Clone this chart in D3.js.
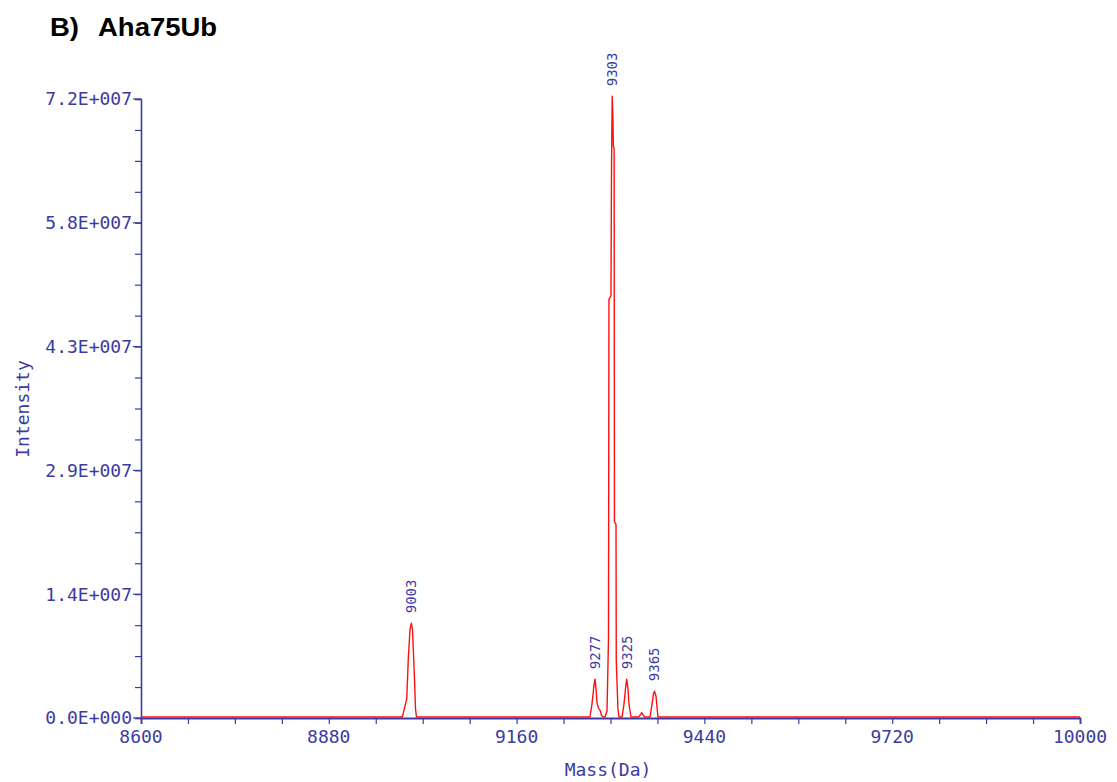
<!DOCTYPE html>
<html>
<head>
<meta charset="utf-8">
<script src="https://cdn.jsdelivr.net/npm/d3@7"></script>
<style>
  body { margin: 0; background: #fff; }
  svg { display: block; }
</style>
</head>
<body>
<div id="app"></div>
<script>
const mass = [
  8600, 8989.6, 8996.2, 8998.5, 9001.1, 9003.0, 9004.8, 9006.3, 9007.8, 9009.3, 9010.8,
  9269.4, 9272.4, 9275.4, 9276.9, 9278.4, 9279.9, 9282.1, 9284.3, 9286.6, 9288.8,
  9291.8, 9294.8, 9297.0, 9297.7, 9300.7, 9301.5, 9302.5, 9303.5, 9304.3, 9305.4, 9305.9,
  9308.2, 9308.6, 9311.1, 9312.6,
  9317.2, 9320.1, 9322.4, 9324.1, 9326.1, 9327.6, 9329.1, 9330.6,
  9342.0, 9345.0, 9346.5, 9348.0, 9351.0,
  9358.9, 9361.9, 9364.1, 9365.6, 9367.9, 9369.3, 9370.8,
  10000
]
// intensity in units of 1e6
const intensity = [
  0, 0, 2.1, 6.7, 10.2, 10.9, 10.2, 7.3, 4.4, 0.9, 0,
  0, 1.5, 3.7, 4.4, 3.3, 1.7, 1.0, 0.8, 0.2, 0,
  0, 0.7, 9.1, 48.6, 49.0, 63.7, 72.2, 70.0, 66.4, 66.1, 22.7,
  22.4, 6.5, 0.9, 0,
  0, 1.5, 3.3, 4.4, 3.3, 1.5, 0.7, 0,
  0, 0.3, 0.5, 0.3, 0,
  0, 1.5, 2.7, 3.0, 2.4, 1.2, 0,
  0
]

const peakMass = [9003, 9277, 9303, 9325, 9365]
const peakHeight = [10.9, 4.4, 72.2, 4.4, 3.0]
const peakLabels = ['9003', '9277', '9303', '9325', '9365']

const xTicks = [8600, 8880, 9160, 9440, 9720, 10000]
const xTickLabels = ['8600', '8880', '9160', '9440', '9720', '10000']
const yTicks = [0, 14.4, 28.8, 43.2, 57.6, 72]
const yTickLabels = ['0.0E+000', '1.4E+007', '2.9E+007', '4.3E+007', '5.8E+007', '7.2E+007']

const blue = '#3b3ba2'
const mono = '"DejaVu Sans Mono", monospace'

const svg = d3.select('#app')
  .append('svg')
  .attr('width', 1117)
  .attr('height', 782)

const x = d3.scaleLinear().domain([8600, 10000]).range([141, 1080])
const y = d3.scaleLinear().domain([0, 72]).range([718, 99])

// title
const title = svg.append('g')
  .attr('font-family', '"Liberation Sans", Arial, sans-serif')
  .attr('font-weight', 'bold')
  .attr('font-size', 25)
  .attr('fill', '#000')
title.append('text').attr('x', 50).attr('y', 36).text('B)')
  .attr('transform', 'translate(50,0) scale(1.1,1) translate(-50,0)')
title.append('text').attr('x', 98).attr('y', 36).text('Aha75Ub')
  .attr('transform', 'translate(98,0) scale(1.1,1) translate(-98,0)')

// x axis
const xAxis = d3.axisBottom(x)
  .tickValues(d3.range(8600, 10001, 70))
  .tickSize(6)
  .tickFormat('')
svg.append('g')
  .attr('transform', 'translate(0,718)')
  .call(xAxis)
  .call((g) => {
    g.select('.domain').attr('stroke', blue).attr('stroke-width', 1.8)
    g.selectAll('.tick line').attr('stroke', blue).attr('stroke-width', 1.2)
  })

svg.append('g')
  .selectAll('text')
  .data(xTicks)
  .join('text')
  .attr('x', (d) => x(d))
  .attr('y', 743)
  .attr('text-anchor', 'middle')
  .attr('font-family', mono)
  .attr('font-size', 18)
  .attr('fill', blue)
  .text((d, i) => xTickLabels[i])

// y axis
const yMinor = d3.range(0, 72.001, 3.6)
const yAxis = d3.axisLeft(y)
  .tickValues(yMinor)
  .tickSizeOuter(0)
  .tickSize(6)
  .tickFormat('')
svg.append('g')
  .attr('transform', 'translate(141,0)')
  .call(yAxis)
  .call((g) => {
    g.select('.domain').attr('stroke', blue).attr('stroke-width', 1.6)
    g.selectAll('.tick line').attr('stroke', blue).attr('stroke-width', 1.2)
  })

svg.append('g')
  .selectAll('line')
  .data(yTicks)
  .join('line')
  .attr('x1', 133)
  .attr('x2', 141)
  .attr('y1', (d) => y(d))
  .attr('y2', (d) => y(d))
  .attr('stroke', blue)
  .attr('stroke-width', 1.2)

svg.append('g')
  .selectAll('text')
  .data(yTicks)
  .join('text')
  .attr('x', 132)
  .attr('y', (d) => y(d))
  .attr('dy', '0.36em')
  .attr('text-anchor', 'end')
  .attr('font-family', mono)
  .attr('font-size', 18)
  .attr('fill', blue)
  .text((d, i) => yTickLabels[i])

// axis titles
svg.append('text')
  .attr('transform', 'translate(29,409) rotate(-90)')
  .attr('text-anchor', 'middle')
  .attr('font-family', mono)
  .attr('font-size', 18)
  .attr('fill', blue)
  .text('Intensity')

svg.append('text')
  .attr('x', 608)
  .attr('y', 776)
  .attr('text-anchor', 'middle')
  .attr('font-family', mono)
  .attr('font-size', 18)
  .attr('fill', blue)
  .text('Mass(Da)')

// spectrum
const line = d3.line()
  .x((d, i) => x(mass[i]))
  .y((d) => y(d) - 1)

svg.append('path')
  .datum(intensity)
  .attr('d', line)
  .attr('fill', 'none')
  .attr('stroke', '#ff1010')
  .attr('stroke-width', 1.4)
  .attr('stroke-linejoin', 'round')

// peak labels
svg.append('g')
  .selectAll('text')
  .data(peakMass)
  .join('text')
  .attr('transform', (d, i) => `translate(${x(d)},${y(peakHeight[i]) - 11}) rotate(-90)`)
  .attr('dy', '0.35em')
  .attr('text-anchor', 'start')
  .attr('font-family', mono)
  .attr('font-size', 14)
  .attr('fill', blue)
  .text((d, i) => peakLabels[i])
</script>
</body>
</html>
